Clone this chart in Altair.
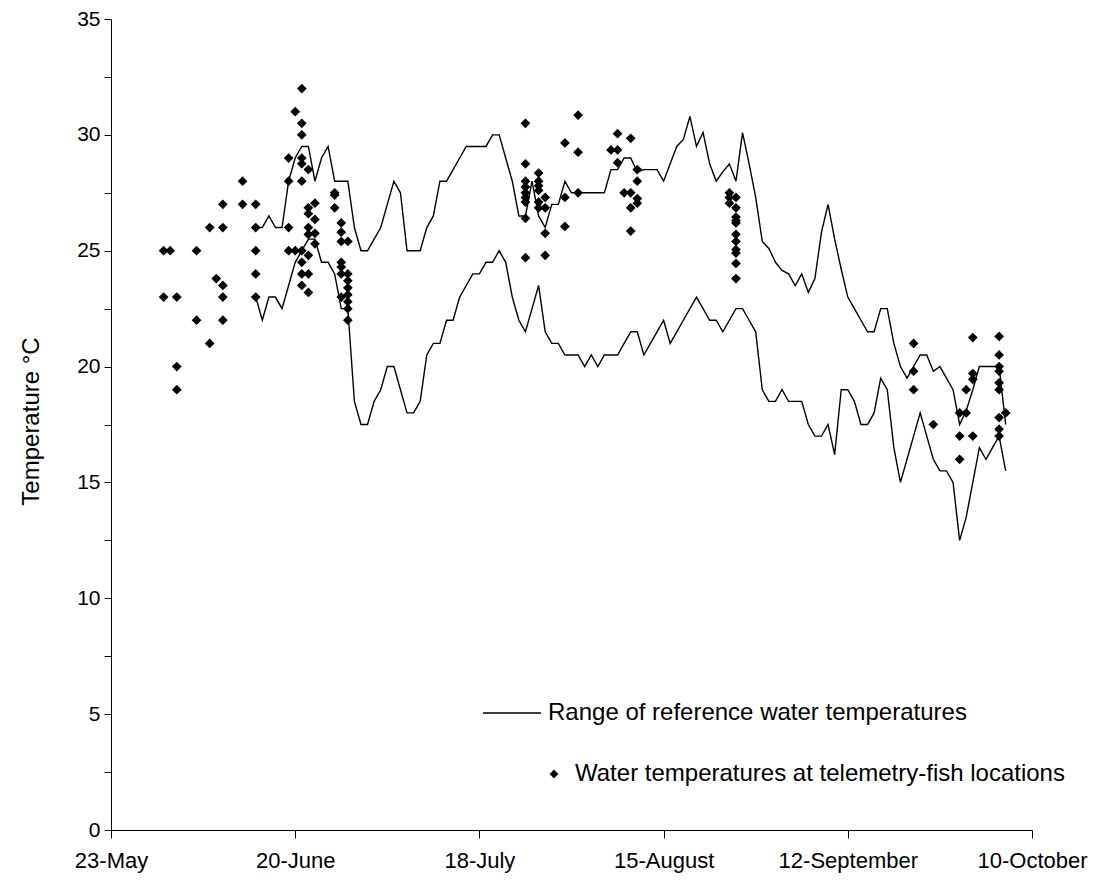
import altair as alt
import pandas as pd

# ---- x axis (days after 23 May) ----
x_tick_days = [0, 28, 56, 84, 112, 140]
x_tick_labels = ["23-May", "20-June", "18-July", "15-August", "12-September", "10-October"]

# ---- reference water temperature range (daily, days 22..136) ----
line_days = list(range(22, 137))
upper_temps = [
    26, 26, 26.5, 26, 26, 28, 29, 29.5, 29.5, 28,
    29, 29.5, 28, 28, 28, 26, 25, 25, 25.5, 26,
    27, 28, 27.5, 25, 25, 25, 26, 26.5, 28, 28,
    28.5, 29, 29.5, 29.5, 29.5, 29.5, 30, 30, 29, 28,
    26.5, 26.5, 28, 26.5, 26, 27, 27, 28, 27.5, 27.5,
    27.5, 27.5, 27.5, 27.5, 28.5, 28.5, 29, 29, 28.4, 28.5,
    28.5, 28.5, 28, 28.75, 29.5, 29.8, 30.8, 29.5, 30.1, 28.75,
    28, 28.4, 28.75, 28, 30.1, 28.75, 27.3, 25.4, 25.1, 24.5,
    24.15, 24, 23.5, 24, 23.2, 23.8, 25.8, 27, 25.5, 24.2,
    23, 22.5, 22, 21.5, 21.5, 22.5, 22.5, 21, 20, 19.5,
    20, 20.5, 20.5, 19.8, 20, 19.5, 19, 17.5, 18.1, 19,
    20, 20, 20, 20, 17.5,
]
lower_temps = [
    23, 22, 23, 23, 22.5, 23.5, 24.5, 25, 25.5, 25.5,
    24.5, 24.5, 24, 22.5, 22.5, 18.5, 17.5, 17.5, 18.5, 19,
    20, 20, 19, 18, 18, 18.5, 20.5, 21, 21, 22,
    22, 23, 23.5, 24, 24, 24.5, 24.5, 25, 24.5, 23,
    22, 21.5, 22.5, 23.5, 21.5, 21, 21, 20.5, 20.5, 20.5,
    20, 20.5, 20, 20.5, 20.5, 20.5, 21, 21.5, 21.5, 20.5,
    21, 21.5, 22, 21, 21.5, 22, 22.5, 23, 22.5, 22,
    22, 21.5, 22, 22.5, 22.5, 22, 21.5, 19, 18.5, 18.5,
    19, 18.5, 18.5, 18.5, 17.5, 17, 17, 17.5, 16.2, 19,
    19, 18.5, 17.5, 17.5, 18, 19.5, 19, 16.5, 15, 16,
    17, 18, 17, 16, 15.5, 15.5, 15, 12.5, 13.5, 15,
    16.5, 16, 16.5, 17, 15.5,
]

# ---- water temperatures at telemetry-fish locations ----
point_days = [
    8, 8, 9, 10, 10, 10, 13, 13, 15, 15, 16,
    17, 17, 17, 17, 17, 20, 20, 22, 22, 22, 22, 22,
    27, 27, 27, 27, 28, 28,
    29, 29, 29, 29, 29, 29, 29, 29, 29, 29,
    30, 30, 30, 30, 30, 30, 30, 30,
    31, 31, 31, 31,
    34, 34, 34,
    35, 35, 35, 35, 35, 35, 35,
    36, 36, 36, 36, 36, 36, 36, 36,
    63, 63, 63, 63, 63, 63, 63, 63, 63,
    65, 65, 65, 65, 65, 65,
    66, 66, 66, 66,
    69, 69, 69,
    71, 71, 71,
    76, 77, 77, 77, 78,
    79, 79, 79, 79,
    80, 80, 80, 80,
    94, 94, 94,
    95, 95, 95, 95, 95, 95, 95, 95, 95, 95, 95,
    122, 122, 122, 125,
    129, 129, 129, 130, 130,
    131, 131, 131, 131,
    135, 135, 135, 135, 135, 135, 135, 135, 135,
    136,
]
point_temps = [
    25, 23, 25, 23, 20, 19, 25, 22, 26, 21, 23.8,
    27, 26, 23.5, 23, 22, 28, 27, 27, 26, 25, 24, 23,
    29, 28, 26, 25, 31, 25,
    32, 30.5, 30, 29, 28.75, 28, 25, 24.5, 24, 23.5,
    28.5, 26.85, 26.6, 26, 25.7, 24.8, 24, 23.2,
    27.05, 26.35, 25.75, 25.3,
    27.5, 27.4, 26.85,
    26.2, 25.8, 25.4, 24.5, 24.3, 24.0, 23.0,
    25.4, 24.0, 23.7, 23.4, 23.1, 22.8, 22.5, 22.0,
    30.5, 28.75, 28, 27.75, 27.5, 27.3, 27.1, 26.4, 24.7,
    28.35, 28.0, 27.8, 27.6, 27.1, 26.85,
    27.3, 26.85, 25.75, 24.8,
    29.65, 27.3, 26.05,
    30.85, 29.25, 27.5,
    29.35, 30.05, 29.35, 28.8, 27.5,
    29.85, 27.5, 26.85, 25.85,
    28.5, 28.0, 27.25, 27.05,
    27.5, 27.3, 27.05,
    27.3, 26.85, 26.45, 26.3, 26.2, 25.7, 25.4, 25.05, 24.9, 24.45, 23.8,
    21.0, 19.8, 19.0, 17.5,
    18.0, 17.0, 16.0, 19.0, 18.0,
    21.25, 19.7, 19.45, 17.0,
    21.3, 20.5, 20.0, 19.8, 19.3, 19.0, 17.8, 17.3, 17.0,
    18.0,
]

line_label = "Range of reference water temperatures"
point_label = "Water temperatures at telemetry-fish locations"

lines_df = pd.DataFrame({
    "day": line_days * 2,
    "temp": upper_temps + lower_temps,
    "series": ["upper"] * len(line_days) + ["lower"] * len(line_days),
    "legend": [line_label] * (2 * len(line_days)),
})
points_df = pd.DataFrame({
    "day": point_days,
    "temp": point_temps,
    "legend": [point_label] * len(point_days),
})

FONT = "Liberation Sans"

label_expr = " : ".join(
    f"datum.value == {d} ? '{l}'" for d, l in zip(x_tick_days, x_tick_labels)
) + " : ''"

x_enc = alt.X(
    "day:Q",
    scale=alt.Scale(domain=[0, 140], nice=False, zero=False),
    axis=alt.Axis(
        values=x_tick_days, labelExpr=label_expr, title=None, grid=False,
        tickSize=8, labelPadding=12, labelFontSize=22, labelFont=FONT,
        labelColor="black", domainColor="black", tickColor="black",
        labelOverlap=False, labelFlush=False,
    ),
)
y_enc = alt.Y(
    "temp:Q",
    scale=alt.Scale(domain=[0, 35], nice=False),
    axis=alt.Axis(
        values=[i * 2.5 for i in range(15)],
        labelExpr="datum.value % 5 == 0 ? datum.label : ''",
        title="Temperature °C", titleFont=FONT, titleFontSize=24,
        titleFontWeight="normal", titleColor="black",
        titleX=-80, titleY=402, titleAngle=-90, titleAlign="center", titleBaseline="middle",
        grid=False, tickSize=7, labelPadding=4, labelFontSize=21, labelFont=FONT,
        labelColor="black", domainColor="black", tickColor="black",
    ),
)

lines = alt.Chart(lines_df).mark_line(strokeWidth=1.4).encode(
    x=x_enc,
    y=y_enc,
    detail="series:N",
    color=alt.Color(
        "legend:N",
        scale=alt.Scale(domain=[line_label], range=["black"]),
        legend=alt.Legend(
            title=None, orient="none", legendX=371, legendY=664, padding=0,
            symbolType="stroke", symbolSize=3364, symbolStrokeWidth=1.4,
            symbolStrokeColor="black", labelFont=FONT, labelFontSize=24,
            labelColor="black", labelOffset=6, labelLimit=1000,
        ),
    ),
)

points = alt.Chart(points_df).mark_point(
    shape="diamond", filled=True, color="black", size=95, opacity=1
).encode(
    x="day:Q",
    y="temp:Q",
    shape=alt.Shape(
        "legend:N",
        scale=alt.Scale(domain=[point_label], range=["diamond"]),
        legend=alt.Legend(
            title=None, orient="none", legendX=431, legendY=743, padding=0,
            symbolSize=80, symbolFillColor="black", symbolStrokeColor="black",
            symbolOpacity=1, labelFont=FONT, labelFontSize=24, labelColor="black",
            labelOffset=9, labelLimit=1000,
        ),
    ),
)

chart = alt.layer(lines, points).properties(
    width=921,
    height=811,
    padding={"left": 103, "top": 11, "right": 70, "bottom": 45},
    autosize=alt.AutoSizeParams(type="none"),
    background="white",
).configure_view(stroke=None).configure_axis(domainWidth=1, tickWidth=1)

chart.save("out.html", embed_options={"renderer": "svg", "actions": False})
